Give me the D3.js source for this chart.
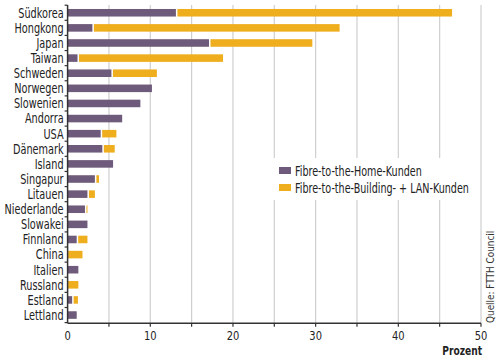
<!DOCTYPE html>
<html><head><meta charset="utf-8">
<script src="https://cdn.jsdelivr.net/npm/d3@7"></script>
<style>
body{margin:0;background:#fff;}
svg{display:block;font-family:"DejaVu Sans Condensed","Liberation Sans Narrow",sans-serif;}
</style></head>
<body><svg id="c" width="500" height="358"></svg>
<script>
const countries = ["Südkorea","Hongkong","Japan","Taiwan","Schweden","Norwegen","Slowenien","Andorra","USA","Dänemark","Island","Singapur","Litauen","Niederlande","Slowakei","Finnland","China","Italien","Russland","Estland","Lettland"];
const ftth = [13.1,3.0,17.1,1.2,5.3,10.2,8.8,6.6,4.0,4.2,5.5,3.3,2.4,2.1,2.4,1.1,0.0,1.3,0.0,0.55,1.1];
const fttb = [33.4,29.9,12.5,17.6,5.5,0,0,0,1.9,1.5,0,0.5,0.9,0.3,0,1.3,1.8,0,1.3,0.7,0];
const xTicks = [0,10,20,30,40,50];
const gridTicks = [5,10,15,20,25,30,35,40,45,50];
const seriesNames = ["Fibre-to-the-Home-Kunden","Fibre-to-the-Building- + LAN-Kunden"];
const colors = ["#6e5a7a","#efae1e"];

const svg = d3.select("#c");
const x = d3.scaleLinear().domain([0,50]).range([67.6,481]);
const y = d3.scaleBand().domain(countries).range([5.2,322.6]).paddingInner(0.5).paddingOuter(0.25);
const axisY = 323.3;

// grid
svg.append("g").selectAll("line").data(gridTicks).join("line")
  .attr("x1",d=>x(d)).attr("x2",d=>x(d)).attr("y1",5).attr("y2",axisY)
  .attr("stroke","#cfcfcf").attr("stroke-width",1.2);

// bars
const g = svg.append("g");
countries.forEach((c,i)=>{
  if(ftth[i]>0) g.append("rect").attr("x",x(0)).attr("y",y(c)).attr("width",x(ftth[i])-x(0)).attr("height",y.bandwidth()).attr("fill",colors[0]);
  if(fttb[i]>0){
    const s = x(ftth[i]) + (ftth[i]>0?1.5:0.5);
    const e = x(ftth[i]+fttb[i]);
    g.append("rect").attr("x",s).attr("y",y(c)).attr("width",Math.max(1,e-s)).attr("height",y.bandwidth()).attr("fill",colors[1]);
  }
});

// y axis
const step = y.step();
svg.append("line").attr("x1",x(0)).attr("x2",x(0)).attr("y1",5).attr("y2",axisY).attr("stroke","#333").attr("stroke-width",1.5);
const bounds = countries.map(c=>y(c)-step*0.25).concat([y(countries[countries.length-1])+y.bandwidth()+step*0.25]);
svg.append("g").selectAll("line").data(bounds).join("line")
  .attr("x1",x(0)-3).attr("x2",x(0)).attr("y1",d=>d).attr("y2",d=>d).attr("stroke","#333").attr("stroke-width",1.2);
svg.append("g").selectAll("text").data(countries).join("text")
  .attr("transform",d=>`translate(${x(0)-4},${y(d)+y.bandwidth()/2}) scale(0.8,1)`).attr("dy","0.36em")
  .attr("text-anchor","end").attr("font-size",13.5).attr("fill","#222").text(d=>d);

// x axis
svg.append("line").attr("x1",x(0)).attr("x2",x(50)).attr("y1",axisY).attr("y2",axisY).attr("stroke","#333").attr("stroke-width",1.5);
svg.append("g").selectAll("line").data(gridTicks).join("line")
  .attr("x1",d=>x(d)).attr("x2",d=>x(d)).attr("y1",axisY).attr("y2",axisY+3.5).attr("stroke","#333").attr("stroke-width",1.2);
svg.append("g").selectAll("text").data(xTicks).join("text")
  .attr("transform",d=>`translate(${x(d)},340) scale(0.85,1)`).attr("text-anchor","middle").attr("font-size",13).attr("fill","#222").text(d=>d);
svg.append("text").attr("transform",`translate(${x(50)+1},354.5) scale(0.78,1)`).attr("text-anchor","end").attr("font-size",13).attr("font-weight","bold").attr("fill","#222").text("Prozent");

// legend
const lg = svg.append("g");
lg.append("rect").attr("x",268).attr("y",158).attr("width",206).attr("height",42).attr("fill","#fff");
seriesNames.forEach((n,i)=>{
  const yy = 171 + i*17;
  lg.append("rect").attr("x",279).attr("y",yy-4).attr("width",12).attr("height",7).attr("fill",colors[i]);
  lg.append("text").attr("transform",`translate(295,${yy}) scale(0.79,1)`).attr("dy","0.36em").attr("font-size",13.5).attr("fill","#222").text(n);
});

// source
svg.append("text").attr("transform","translate(494,323) rotate(-90) scale(0.9,1)").attr("font-size",11).attr("fill","#333").text("Quelle: FTTH Council");
</script></body></html>
